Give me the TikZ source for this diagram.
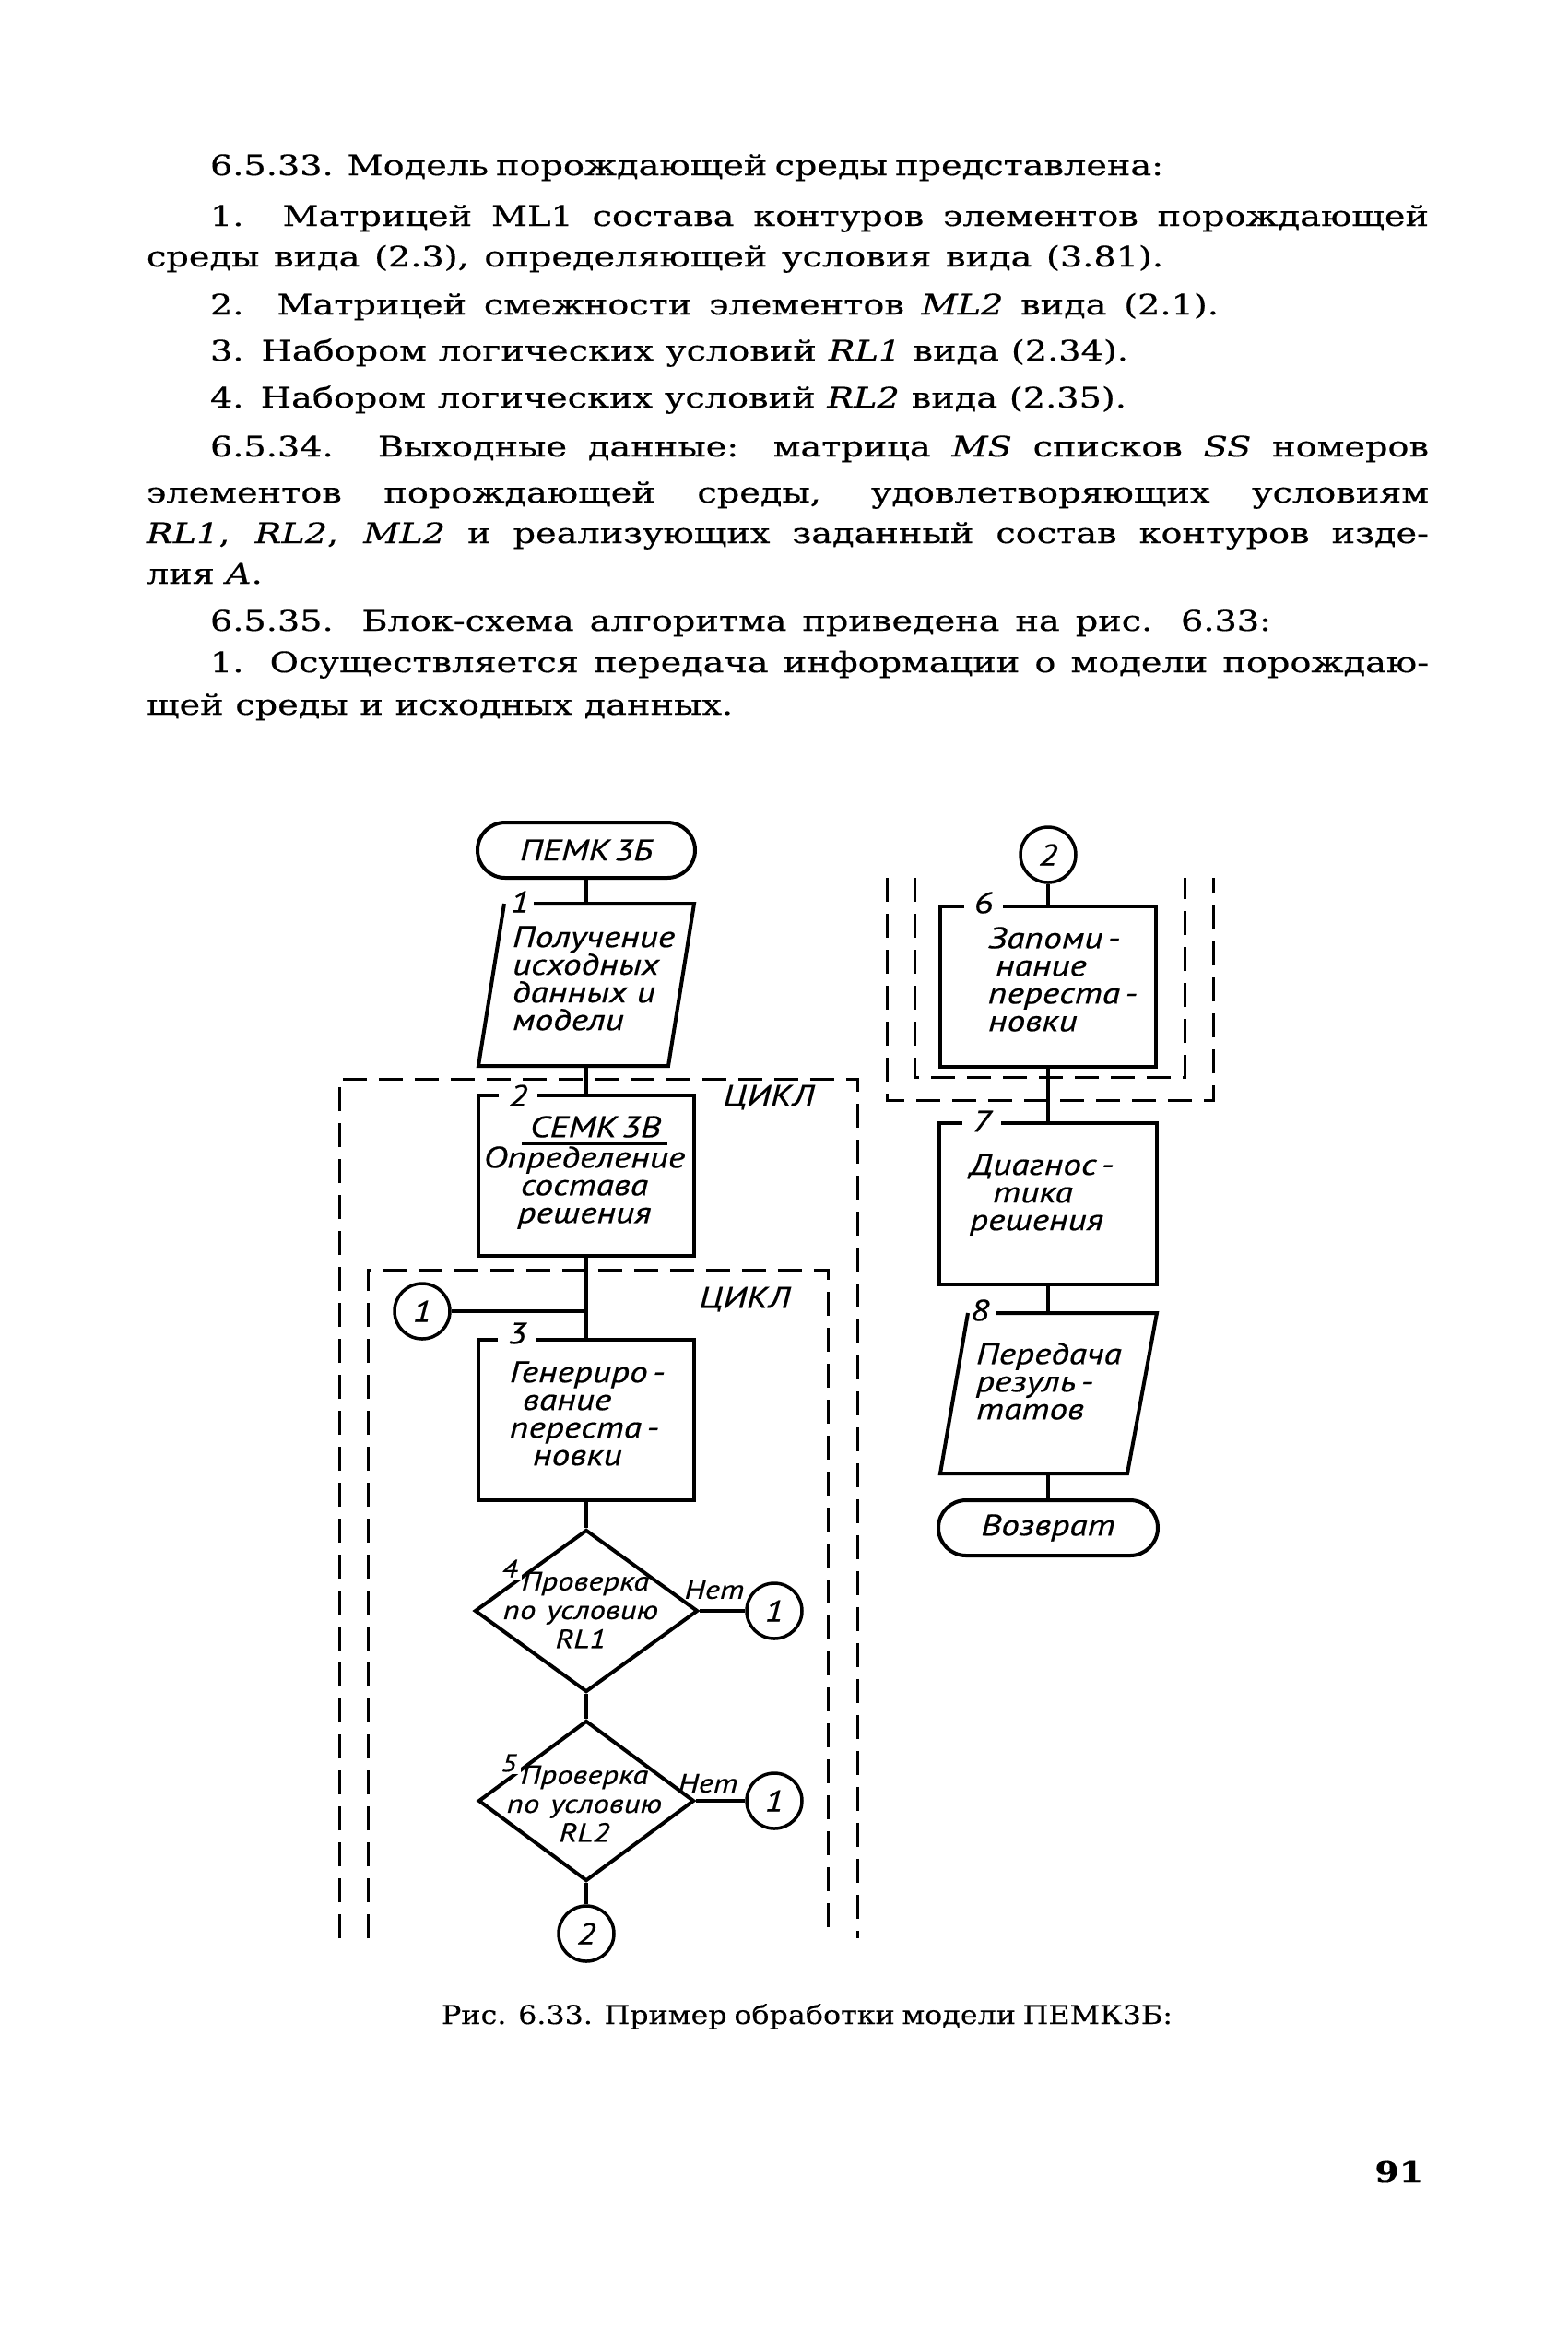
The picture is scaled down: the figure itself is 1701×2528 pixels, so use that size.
\documentclass[tikz,border=0pt]{standalone}
\usepackage{fontspec}
\usetikzlibrary{shapes.geometric}
\newfontfamily\bodyfont{DejaVu Serif}[FakeStretch=1.25, FakeBold=0.4]
\newfontfamily\capfont{DejaVu Serif}[FakeStretch=1.13, FakeBold=0.3]
\newfontfamily\gost{PT Sans}[FakeStretch=1.22, FakeBold=0.5]
\begin{document}
\begin{tikzpicture}[x=0.1mm, y=-0.1mm, line width=0.4mm,
  body/.style={anchor=base west, inner sep=0pt, font=\bodyfont\fontsize{8.7pt}{9pt}\selectfont},
  gtxt/.style={inner sep=0pt, font=\gost\itshape\fontsize{9.2pt}{8.54pt}\selectfont},
  gsmall/.style={inner sep=0pt, font=\gost\itshape\fontsize{8.1pt}{8.9pt}\selectfont},
  block/.style={draw, rectangle, inner sep=0pt, minimum width=23.4mm, minimum height=17.4mm},
  term/.style={draw, rectangle, rounded corners=3mm, inner sep=0pt, minimum width=23.6mm, minimum height=6mm, font=\gost\itshape\fontsize{9.2pt}{8.54pt}\selectfont},
  conn/.style={draw, circle, line width=0.35mm, inner sep=0pt, minimum size=6mm, font=\gost\itshape\fontsize{9.2pt}{8.54pt}\selectfont},
  numlab/.style={fill=white, inner xsep=1.1mm, inner ysep=0.2mm, font=\gost\itshape\fontsize{9.2pt}{8.54pt}\selectfont},
  numsmall/.style={fill=white, inner xsep=0.5mm, inner ysep=0.2mm, font=\gost\itshape\fontsize{7.6pt}{8pt}\selectfont},
  dec/.style={draw, diamond, inner sep=0pt},
  cyc/.style={line width=0.3mm, dash pattern=on 2.6mm off 1.3mm}
]
\fill[white] (0,0) rectangle (1701,2528);
\useasboundingbox (0,0) rectangle (1701,2528);

% ---------- body text ----------
\node[body] (l1) at (226,190) {\makebox[103.2mm][s]{6.5.33. Модель порождающей среды представлена:}};
\node[body] (l2) at (226,245) {\makebox[132.2mm][s]{1. Матрицей ML1 состава контуров элементов порождающей}};
\node[body] (l3) at (157,289) {\makebox[110.3mm][s]{среды вида (2.3), определяющей условия вида (3.81).}};
\node[body] (l4) at (226,341) {\makebox[109.4mm][s]{2. Матрицей смежности элементов \textit{ML2} вида (2.1).}};
\node[body] (l5) at (226,391) {\makebox[99.6mm][s]{3. Набором логических условий \textit{RL1} вида (2.34).}};
\node[body] (l6) at (226,442) {\makebox[99.4mm][s]{4. Набором логических условий \textit{RL2} вида (2.35).}};
\node[body] (l7) at (226,495) {\makebox[132.2mm][s]{6.5.34. Выходные данные: матрица \textit{MS} списков \textit{SS} номеров}};
\node[body] (l8) at (157,545) {\makebox[139.1mm][s]{элементов порождающей среды, удовлетворяющих условиям}};
\node[body] (l9) at (157,589) {\makebox[139.1mm][s]{\textit{RL1}, \textit{RL2}, \textit{ML2} и реализующих заданный состав контуров изде-}};
\node[body] (l10) at (157,633) {лия \textit{A}.};
\node[body] (l11) at (226,684) {\makebox[115.1mm][s]{6.5.35. Блок-схема алгоритма приведена на рис. 6.33:}};
\node[body] (l12) at (226,729) {\makebox[132.2mm][s]{1. Осуществляется передача информации о модели порождаю-}};
\node[body] (l13) at (157,775) {\makebox[63.6mm][s]{щей среды и исходных данных.}};

% ---------- left column ----------
\node[term] (start) at (636,922) {ПЕМК\,3Б};

\coordinate (p1n) at (636,980);
\coordinate (p1s) at (636,1156);
\draw (579,980) -- (753,980) -- (725,1156) -- (519,1156) -- (547,980);
\node[gtxt] (n1) at (564,978) {1};
\node[gtxt, align=left, anchor=west] (t1) at (554,1061) {Получение\\исходных\\данных и\\модели};

\draw[cyc] (368,2102) -- (368,1170) -- (930,1170) -- (930,2102);
\node[gtxt] (cyc1) at (834,1190) {ЦИКЛ};

\node[block] (b2) at (636,1275) {};
\node[numlab] (n2) at (562,1188) {2};
\node[gtxt] (semk) at (646,1222) {СЕМК\,3В};
\draw[line width=0.3mm] (566,1240) -- (724,1240);
\node[gtxt, align=center] (t2) at (634,1288) {Определение\\состава\\решения};

\draw[cyc] (399,2102) -- (399,1377) -- (898,1377) -- (898,2102);
\node[gtxt] (cyc2) at (808,1409) {ЦИКЛ};

\node[conn] (c1a) at (458,1422) {1};

\node[block] (b3) at (636,1540) {};
\node[numlab] (n3) at (561,1446) {3};
\node[gtxt, align=left, anchor=west] (t3) at (551,1533) {Генериро\,-\\\hspace*{1.4mm}вание\\переста\,-\\\hspace*{2.5mm}новки};

\node[dec, minimum width=24.2mm, minimum height=17.6mm] (d4) at (636,1747) {};
\node[numsmall] (n4) at (553,1701) {4};
\node[gsmall, align=center] (t4) at (630,1746) {\hspace*{1mm}Проверка\\по\hspace{1.2mm}условию\\RL1};
\node[gsmall] (net4) at (775,1724) {Нет};
\node[conn] (c1b) at (840,1747) {1};

\node[dec, minimum width=23.4mm, minimum height=17.4mm] (d5) at (636,1953) {};
\node[numsmall] (n5) at (552,1912) {5};
\node[gsmall, align=center] (t5) at (634,1956) {Проверка\\по\hspace{1.2mm}условию\\RL2};
\node[gsmall] (net5) at (768,1934) {Нет};
\node[conn] (c1c) at (840,1953) {1};

\node[conn] (c2b) at (636,2097) {2};

\draw (start) -- (p1n);
\draw (p1s) -- (b2);
\draw (b2) -- (b3);
\draw (c1a) -- (c1a -| b3);
\draw (b3) -- (d4);
\draw (d4) -- (c1b);
\draw (d4) -- (d5);
\draw (d5) -- (c1c);
\draw (d5) -- (c2b);

% ---------- right column ----------
\node[conn] (c2a) at (1137,927) {2};

\node[block] (b6) at (1137,1070) {};
\node[numlab] (n6) at (1067,979) {6};
\node[gtxt, align=left, anchor=west] (t6) at (1070,1062) {Запоми\,-\\\hspace*{0.8mm}нание\\переста\,-\\новки};

\draw[cyc] (992,952) -- (992,1168) -- (1285,1168) -- (1285,952);
\draw[cyc] (962,952) -- (962,1193) -- (1316,1193) -- (1316,952);

\node[block, minimum width=23.6mm, minimum height=17.5mm] (b7) at (1137,1305) {};
\node[numlab] (n7) at (1065,1216) {7};
\node[gtxt, align=left, anchor=west] (t7) at (1050,1296) {Диагнос\,-\\\hspace*{2.5mm}тика\\решения};

\coordinate (p8n) at (1137,1424);
\coordinate (p8s) at (1137,1598);
\draw (1080,1424) -- (1255,1424) -- (1223,1598) -- (1020,1598) -- (1050,1424);
\node[gtxt] (n8) at (1063,1421) {8};
\node[gtxt, align=left, anchor=west] (t8) at (1057,1498) {Передача\\резуль\,-\\татов};

\node[term, minimum width=23.8mm] (end) at (1137,1657) {Возврат};

\draw (c2a) -- (b6);
\draw (b6) -- (b7);
\draw (b7) -- (p8n);
\draw (p8s) -- (end);

% ---------- caption and page number ----------
\node[anchor=base west, inner sep=0pt, font=\capfont\fontsize{8pt}{9pt}\selectfont] (cap) at (477,2195) {\makebox[79.3mm][s]{Рис. 6.33. Пример обработки модели ПЕМК3Б:}};
\node[anchor=base east, inner sep=0pt, font=\bodyfont\bfseries\fontsize{8.6pt}{9pt}\selectfont] (pg) at (1546,2366) {91};
\end{tikzpicture}
\end{document}
